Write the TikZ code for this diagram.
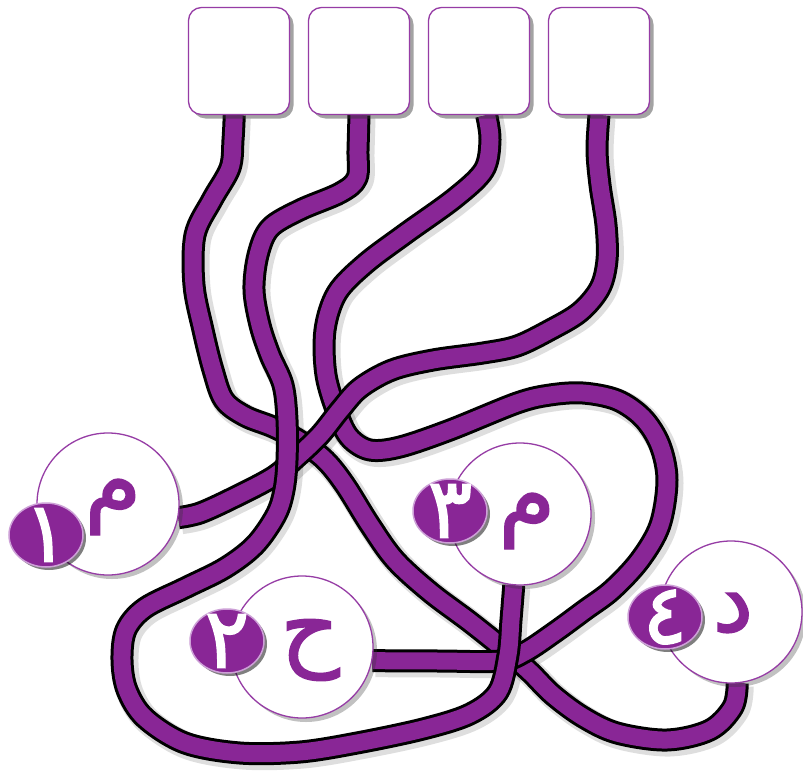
\documentclass[tikz,border=0pt]{standalone}
\usepackage{fontspec}
\usetikzlibrary{shapes.geometric,shadows}
\TeXXeTstate=1
\newfontfamily\arabicfont[Script=Arabic,FakeBold=1.5]{DejaVu Sans}
\definecolor{tubepurple}{RGB}{137,38,150}
\definecolor{rimpurple}{RGB}{150,60,165}
\definecolor{lightrim}{RGB}{205,160,215}
\pgfdeclarelayer{bgfill}
\pgfdeclarelayer{bg}
\pgfsetlayers{bgfill,bg,main}
\tikzset{
  topbox/.style={draw=rimpurple, line width=1.3pt, fill=white, rounded corners=13pt,
    minimum width=101pt, minimum height=107pt, inner sep=0pt,
    drop shadow={shadow xshift=4pt,shadow yshift=-4pt,opacity=.45,fill=black!80}},
  bigcircle/.style={circle, draw=rimpurple, line width=1.3pt, fill=white,
    minimum size=142pt, inner sep=0pt,
    drop shadow={shadow xshift=4pt,shadow yshift=-4pt,opacity=.3,fill=black!80}},
  numdot/.style={ellipse, draw=lightrim, line width=1.5pt, fill=tubepurple,
    minimum width=74pt, minimum height=64pt, inner sep=0pt,
    drop shadow={shadow xshift=3pt,shadow yshift=-3pt,opacity=.5,fill=black}},
  letter/.style={text=tubepurple, font=\arabicfont\fontsize{92}{100}\selectfont, inner sep=0pt},
  digit/.style={text=white, font=\arabicfont\fontsize{84}{90}\selectfont, inner sep=0pt},
  tube/.style={draw=black, line width=3pt, double=tubepurple, double distance=17pt, line join=round},
  tubeshadow/.style={draw=black, line width=27pt, opacity=.13, line join=round},
}
\newcommand\tubeA{plot[smooth,tension=.55] coordinates {(b1.-95) (233,140) (230,168) (212,200) (195,235) (194,285) (203,330) (213,370) (224,400) (245,416) (273,427) (300,441) (325,460) (345,485) (370,525) (395,560) (430,592) (470,622) (505,650) (530,672) (553,695) (583,717) (617,733) (667,740) (710,730) (733,707) (c4.275)}}
\newcommand\tubeB{plot[smooth,tension=.55] coordinates {(b2.south) (358,150) (357,178) (340,193) (300,210) (270,228) (258,255) (254,290) (260,325) (270,355) (283,385) (287,420) (287,460) (284,490) (276,515) (255,545) (225,568) (185,588) (145,608) (126,630) (122,660) (127,690) (145,718) (185,743) (240,753) (300,752) (357,743) (423,729) (470,714) (498,692) (508,655) (511,620) (c3.265)}}
\newcommand\tubeC{plot[smooth,tension=.55] coordinates {(b3.-82) (490,140) (484,170) (455,198) (405,234) (365,264) (337,293) (325,330) (326,375) (338,415) (350,438) (370,450) (400,447) (450,430) (517,403) (550,395) (583,393) (617,400) (643,418) (660,445) (667,480) (660,525) (640,560) (612,590) (585,610) (555,632) (525,652) (500,661) (440,661) (c2.-11)}}
\newcommand\tubeD{plot[smooth,tension=.55] coordinates {(b4.south) (597,150) (600,185) (606,225) (607,260) (600,288) (580,312) (550,330) (517,346) (483,353) (433,360) (392,370) (360,388) (340,410) (320,435) (297,457) (273,477) (233,498) (200,513) (c1.-11)}}
\begin{document}
\begin{tikzpicture}[x=1pt,y=-1pt]
\useasboundingbox (0,0) rectangle (803,771);
\begin{pgfonlayer}{bgfill}
  \fill[white] (0,0) rectangle (803,771);
\end{pgfonlayer}
% top boxes
\node[topbox] (b1) at (239,61) {};
\node[topbox] (b2) at (359,61) {};
\node[topbox] (b3) at (479,61) {};
\node[topbox] (b4) at (599,61) {};
% big circles
\node[bigcircle] (c1) at (108,504) {};
\node[bigcircle] (c2) at (302,647) {};
\node[bigcircle] (c3) at (520,514) {};
\node[bigcircle] (c4) at (731,612) {};
\node[letter] (l1) at (113,507) {\beginR م\endR};
\node[letter] (l2) at (310,650) {\beginR ح\endR};
\node[letter] (l3) at (527,521) {\beginR م\endR};
\node[letter] (l4) at (733,613) {\beginR د\endR};
% number dots
\node[numdot] (n1) at (46,535) {};
\node[numdot] (n2) at (227,641) {};
\node[numdot] (n3) at (450,511) {};
\node[numdot] (n4) at (665,617) {};
\node[digit] (d1) at (n1) {١};
\node[digit] (d2) at (n2) {٢};
\node[digit] (d3) at (n3) {٣};
\node[digit] (d4) at (n4) {٤};
% tubes
\begin{pgfonlayer}{bg}
  \begin{scope}[transform canvas={shift={(3pt,-3pt)}}]
    \draw[tubeshadow] \tubeA;
    \draw[tubeshadow] \tubeC;
    \draw[tubeshadow] \tubeD;
    \draw[tubeshadow] \tubeB;
  \end{scope}
  \draw[tube] \tubeA;
  \draw[tube] \tubeC;
  \draw[tube] \tubeD;
  \draw[tube] \tubeB;
\end{pgfonlayer}
\end{tikzpicture}
\end{document}
